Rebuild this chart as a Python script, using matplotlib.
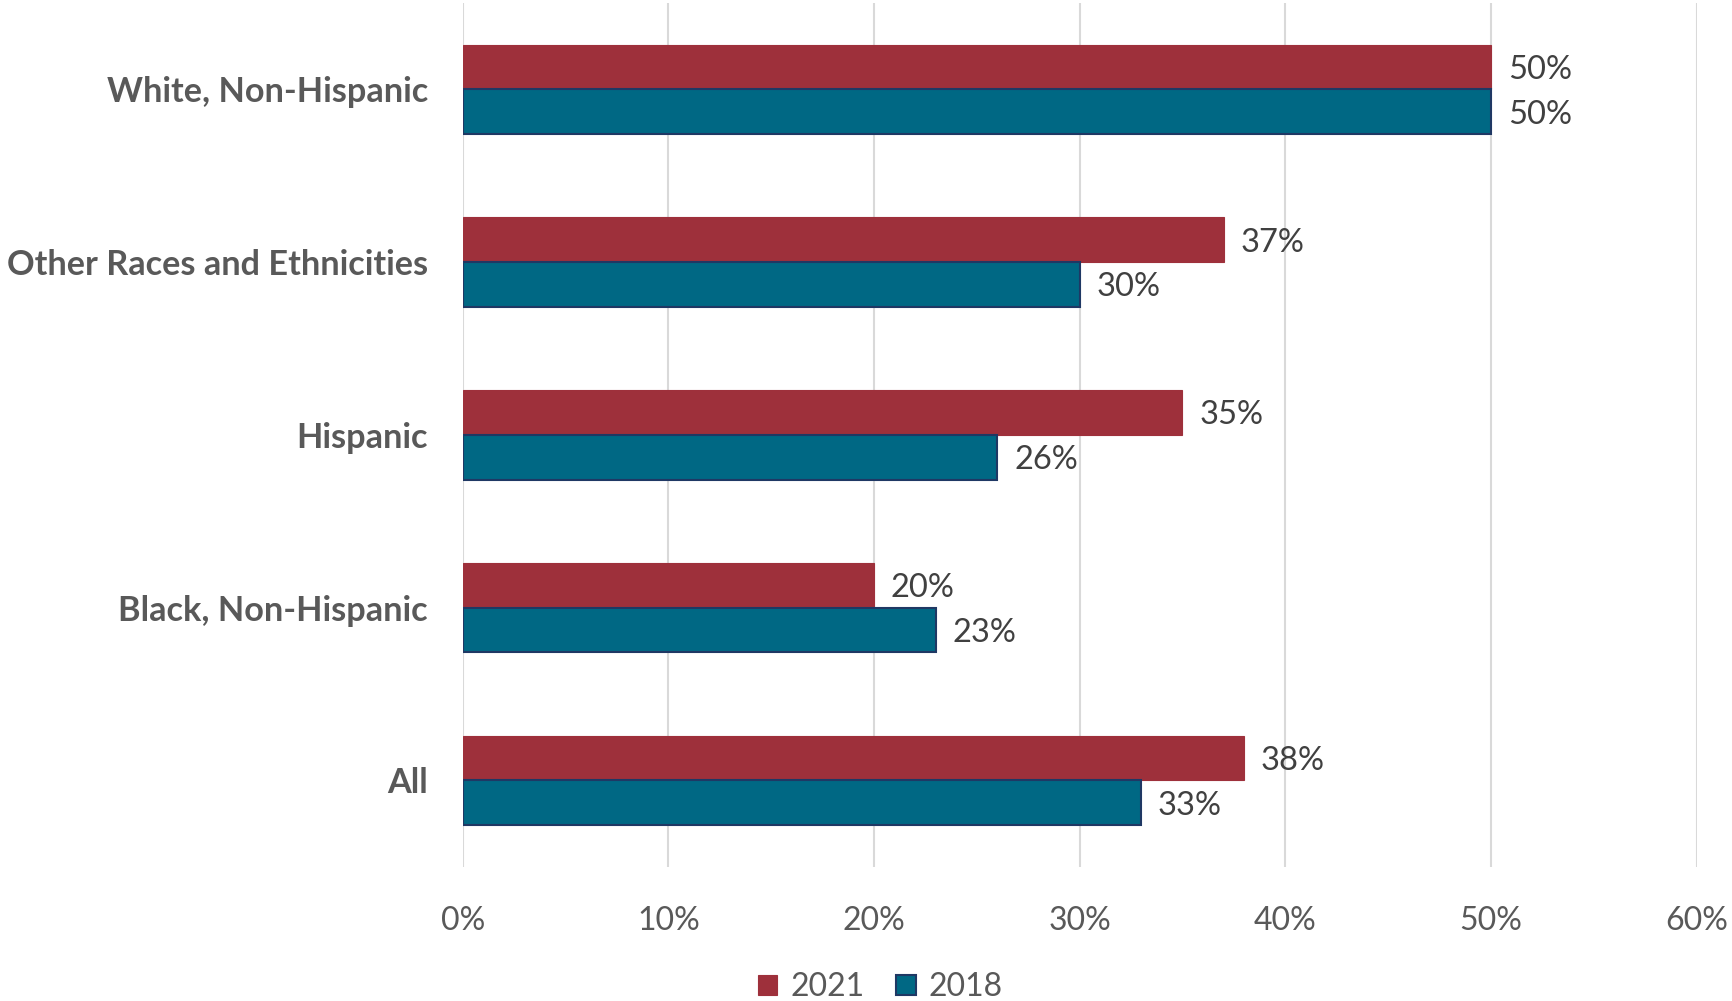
import matplotlib.pyplot as plt
import numpy as np

plt.rcParams['font.family'] = ['Lato', 'DejaVu Sans']

categories = ["All", "Black, Non-Hispanic", "Hispanic", "Other Races and Ethnicities", "White, Non-Hispanic"]
values_2021 = [38, 20, 35, 37, 50]
values_2018 = [33, 23, 26, 30, 50]
xticks = [0, 10, 20, 30, 40, 50, 60]

red = "#9E303B"
teal = "#006884"
navy = "#1F3864"

fig = plt.figure(figsize=(17.33, 10.01), dpi=100)
ax = fig.add_axes([0.267, 0.134, 0.712, 0.863])

y = np.arange(len(categories))
h = 0.259
b1 = ax.barh(y + h / 2, values_2021, height=h, color=red, edgecolor=red, linewidth=0.8, label="2021", zorder=3)
b2 = ax.barh(y - h / 2, values_2018, height=h, color=teal, edgecolor=navy, linewidth=1.5, label="2018", zorder=3)

for bars, vals in [(b1, values_2021), (b2, values_2018)]:
    for bar, v in zip(bars, vals):
        ax.annotate(f"{v}%", (bar.get_width(), bar.get_y() + bar.get_height() / 2),
                    xytext=(12, -2), textcoords="offset points", va="center", ha="left",
                    fontsize=23.5, color="#404040")

ax.set_xlim(0, 60)
ax.set_ylim(-0.5, 4.5)
ax.set_xticks(xticks)
ax.set_xticklabels([f"{t}%" for t in xticks], fontsize=23, color="#595959")
ax.set_yticks(y)
ax.set_yticklabels(categories, fontsize=24.7, fontweight="bold", color="#595959")
ax.tick_params(axis="both", length=0)
ax.tick_params(axis="x", pad=28)
ax.tick_params(axis="y", pad=25)
ax.grid(axis="x", color="#D9D9D9", linewidth=1.5, zorder=0)
for s in ax.spines.values():
    s.set_visible(False)

fig.legend(handles=[b1, b2], labels=["2021", "2018"], loc="lower center", bbox_to_anchor=(0.508, -0.03),
           ncol=2, frameon=False, fontsize=23, labelcolor="#595959", handlelength=0.6, handleheight=0.6,
           handletextpad=0.4, columnspacing=1.0)

fig.savefig("out.png", dpi=100)
